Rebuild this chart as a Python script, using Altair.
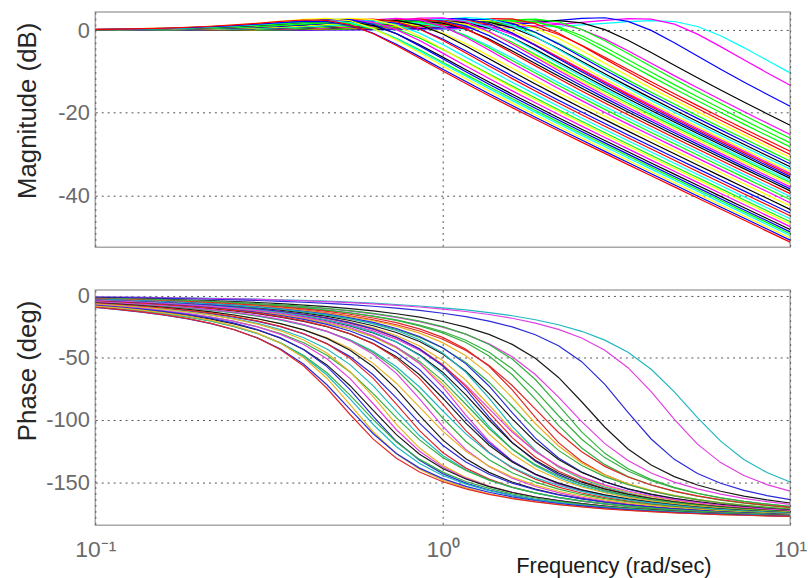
import numpy as np
import pandas as pd
import altair as alt

# Family of second-order low-pass systems  wn^2 / (s^2 + 2*zeta*wn*s + wn^2)
# natural frequencies (rad/sec), highest first
wn = [5.1, 4.35, 3.33, 2.6, 2.3, 2.18, 2.05, 1.94, 1.83, 1.75, 1.68, 1.6,
      1.54, 1.48, 1.43, 1.38, 1.35, 1.32, 1.29, 1.26, 1.22, 1.19, 1.155,
      1.12, 1.09, 1.06, 1.02, 0.98, 0.94, 0.9, 0.86, 0.82, 0.78, 0.75,
      0.72, 0.69, 0.67, 0.645, 0.62, 0.6, 0.585, 0.57, 0.55, 0.535, 0.52]
# damping ratios
zeta = [0.42, 0.39, 0.38, 0.42, 0.44, 0.4, 0.43, 0.41, 0.45, 0.39, 0.42,
        0.44, 0.4, 0.43, 0.38, 0.42, 0.45, 0.41, 0.39, 0.43, 0.4, 0.44,
        0.42, 0.38, 0.41, 0.43, 0.4, 0.45, 0.42, 0.39, 0.44, 0.41, 0.43,
        0.4, 0.42, 0.45, 0.39, 0.41, 0.43, 0.4, 0.44, 0.42, 0.39, 0.43, 0.41]
# line colour of each system
keys = ["c", "m", "b", "k", "m", "g", "g", "g", "r", "r", "y", "g", "b",
        "k", "c", "y", "m", "r", "b", "k", "c", "g", "y", "m", "b", "k",
        "r", "c", "g", "m", "y", "k", "b", "r", "c", "g", "y", "m", "k",
        "b", "g", "c", "y", "b", "r"]

mag_palette = {"c": "#00ffff", "m": "#ff00ff", "b": "#0000ff", "k": "#000000",
               "g": "#00ff00", "r": "#ff0000", "y": "#ffff00"}
phase_palette = {"c": "#20b8c0", "m": "#e040e0", "b": "#2a2ad8", "k": "#1a1a1a",
                 "g": "#33b040", "r": "#e02828", "y": "#e6b422"}

freq_ticks = [0.1, 1, 10]
mag_ticks = [0, -20, -40]
phase_ticks = [0, -50, -100, -150]

# frequency grid (rad/sec)
freq = np.logspace(-1, 1, 31)

rows = []
ids = []
for i, (w0, z) in enumerate(zip(wn, zeta)):
    cid = f"sys{i:02d}"
    ids.append(cid)
    s = 1j * freq
    h = w0 ** 2 / (s ** 2 + 2 * z * w0 * s + w0 ** 2)
    mag = 20 * np.log10(np.abs(h))
    ph = np.degrees(np.unwrap(np.angle(h)))
    for f, m, p in zip(freq, mag, ph):
        rows.append({"sys": cid, "freq": f, "mag": m, "phase": p})
df = pd.DataFrame(rows)

FONT = "Liberation Sans, Arial, sans-serif"
GRID = dict(grid=True, gridDash=[2, 4], gridColor="#555555", gridWidth=1,
            domain=False, ticks=False)

ylab_expr = "datum.value < 0 ? '-' + abs(datum.value) : '' + datum.value"

x_scale = alt.Scale(type="log", domain=[0.1, 10], nice=False)

top = alt.Chart(df).mark_line(strokeWidth=1.2, clip=True).encode(
    x=alt.X("freq:Q", scale=x_scale,
            axis=alt.Axis(values=freq_ticks, labels=False, title=None, **GRID)),
    y=alt.Y("mag:Q", scale=alt.Scale(domain=[-52.6, 4.4], nice=False, zero=False),
            axis=alt.Axis(values=mag_ticks, labelExpr=ylab_expr,
                          labelFont=FONT, labelFontSize=22, labelColor="#6a6a6a",
                          labelPadding=6,
                          title="Magnitude (dB)", titleFont=FONT,
                          titleFontSize=26, titleFontWeight="normal",
                          titleColor="#262626", titleAngle=270,
                          titleX=-68, titleY=99, titleAlign="center",
                          titleBaseline="middle", **GRID)),
    color=alt.Color("sys:N", scale=alt.Scale(domain=ids,
                    range=[mag_palette[k] for k in keys]), legend=None),
).properties(width=700, height=237)

xlab_expr = ("datum.value < 0.5 ? '10\u207b\u00b9' : "
             "(datum.value < 5 ? '10\u2070' : '10\u00b9')")

bottom = alt.Chart(df).mark_line(strokeWidth=1.2, clip=True).encode(
    x=alt.X("freq:Q", scale=x_scale,
            axis=alt.Axis(values=freq_ticks, labelExpr=xlab_expr,
                          labelFont=FONT, labelFontSize=23, labelColor="#6a6a6a",
                          labelBaseline="alphabetic", labelPadding=31,
                          labelFlush=False, labelOverlap=False,
                          title="Frequency (rad/sec)", titleFont=FONT,
                          titleFontSize=22, titleFontWeight="normal",
                          titleColor="#1a1a1a", titleX=522, titleY=48,
                          titleAlign="center", titleBaseline="alphabetic",
                          **GRID)),
    y=alt.Y("phase:Q", scale=alt.Scale(domain=[-184.7, 4.6], nice=False, zero=False),
            axis=alt.Axis(values=phase_ticks, labelExpr=ylab_expr,
                          labelFont=FONT, labelFontSize=22, labelColor="#6a6a6a",
                          labelPadding=6,
                          title="Phase (deg)", titleFont=FONT,
                          titleFontSize=26, titleFontWeight="normal",
                          titleColor="#262626", titleAngle=270,
                          titleX=-68, titleY=81, titleAlign="center",
                          titleBaseline="middle", **GRID)),
    color=alt.Color("sys:N", scale=alt.Scale(domain=ids,
                    range=[phase_palette[k] for k in keys]), legend=None),
).properties(width=700, height=237)

chart = alt.vconcat(top, bottom, spacing=43, bounds="flush").resolve_scale(
    color="independent"
).properties(
    padding={"left": 14, "top": 9, "right": 0, "bottom": 0},
    background="white",
).configure_view(stroke="#a8a8a8", strokeWidth=1.5)

chart.save("out.html", embed_options={"renderer": "svg", "actions": False})
